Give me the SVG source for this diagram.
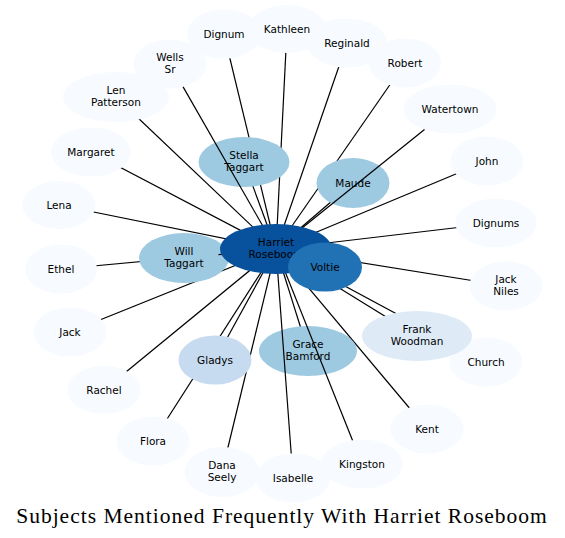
<svg xmlns="http://www.w3.org/2000/svg" width="565" height="538" viewBox="0 0 565 538">
<style>
.e{stroke:#000;stroke-width:1.2;fill:none}
.p{fill:#f7fbff}
.c1{fill:#9ecae1}
.c2{fill:#c6dbef}
.c3{fill:#deebf7}
.l{font-family:"DejaVu Sans",sans-serif;font-size:10.5px;text-anchor:middle;fill:#000}
.t{font-family:"Liberation Serif","DejaVu Serif",serif;font-size:21.5px;letter-spacing:1px;text-anchor:middle;fill:#000}
</style>
<rect width="565" height="538" fill="#fff"/>
<g id="connectors">
<line class="e" x1="276" y1="249" x2="224" y2="34"/>
<line class="e" x1="276" y1="249" x2="287" y2="29"/>
<line class="e" x1="276" y1="249" x2="347" y2="43"/>
<line class="e" x1="276" y1="249" x2="405" y2="63"/>
<line class="e" x1="276" y1="249" x2="116" y2="97"/>
<line class="e" x1="276" y1="249" x2="91" y2="152"/>
<line class="e" x1="276" y1="249" x2="487" y2="161"/>
<line class="e" x1="276" y1="249" x2="59" y2="205"/>
<line class="e" x1="276" y1="249" x2="496" y2="223"/>
<line class="e" x1="276" y1="249" x2="61" y2="269"/>
<line class="e" x1="276" y1="249" x2="506" y2="286"/>
<line class="e" x1="276" y1="249" x2="70" y2="332"/>
<line class="e" x1="276" y1="249" x2="486" y2="362"/>
<line class="e" x1="276" y1="249" x2="104" y2="390"/>
<line class="e" x1="276" y1="249" x2="427" y2="429"/>
<line class="e" x1="276" y1="249" x2="153" y2="441"/>
<line class="e" x1="276" y1="249" x2="222" y2="472"/>
<line class="e" x1="276" y1="249" x2="244" y2="162"/>
<line class="e" x1="276" y1="249" x2="353" y2="183"/>
<line class="e" x1="276" y1="249" x2="184" y2="258"/>
<line class="e" x1="276" y1="249" x2="308" y2="351"/>
<line class="e" x1="276" y1="249" x2="215" y2="360"/>
<line class="e" x1="276" y1="249" x2="417" y2="336"/>
<line class="e" x1="276" y1="249" x2="325" y2="267"/>
</g>
<g id="n-dignum"><ellipse class="p" cx="224" cy="34" rx="37" ry="24.5"/><text class="l" x="224" y="37.5">Dignum</text></g>
<g id="n-kathleen"><ellipse class="p" cx="287" cy="29" rx="39" ry="24"/><text class="l" x="287" y="32.5">Kathleen</text></g>
<g id="n-reginald"><ellipse class="p" cx="347" cy="43" rx="40" ry="24.5"/><text class="l" x="347" y="46.5">Reginald</text></g>
<g id="n-robert"><ellipse class="p" cx="405" cy="63" rx="36" ry="24.5"/><text class="l" x="405" y="66.5">Robert</text></g>
<g id="n-wells-sr"><ellipse class="p" cx="170" cy="64" rx="36.5" ry="24.5"/><text class="l" x="170" y="61">Wells</text><text class="l" x="170" y="73">Sr</text></g>
<g id="n-len-patterson"><ellipse class="p" cx="116" cy="97" rx="53" ry="25"/><text class="l" x="116" y="94">Len</text><text class="l" x="116" y="106">Patterson</text></g>
<g id="n-watertown"><ellipse class="p" cx="450" cy="109" rx="46.5" ry="24.5"/><text class="l" x="450" y="112.5">Watertown</text></g>
<g id="n-margaret"><ellipse class="p" cx="91" cy="152" rx="40" ry="24.5"/><text class="l" x="91" y="155.5">Margaret</text></g>
<g id="n-john"><ellipse class="p" cx="487" cy="161" rx="36.5" ry="24.5"/><text class="l" x="487" y="164.5">John</text></g>
<g id="n-lena"><ellipse class="p" cx="59" cy="205" rx="36.5" ry="24"/><text class="l" x="59" y="208.5">Lena</text></g>
<g id="n-dignums"><ellipse class="p" cx="496" cy="223" rx="40.5" ry="24.5"/><text class="l" x="496" y="226.5">Dignums</text></g>
<g id="n-ethel"><ellipse class="p" cx="61" cy="269" rx="36" ry="24.5"/><text class="l" x="61" y="272.5">Ethel</text></g>
<g id="n-jack-niles"><ellipse class="p" cx="506" cy="286" rx="36.5" ry="24.5"/><text class="l" x="506" y="283">Jack</text><text class="l" x="506" y="295">Niles</text></g>
<g id="n-jack"><ellipse class="p" cx="70" cy="332" rx="36.5" ry="24.5"/><text class="l" x="70" y="335.5">Jack</text></g>
<g id="n-church"><ellipse class="p" cx="486" cy="362" rx="36.5" ry="24.5"/><text class="l" x="486" y="365.5">Church</text></g>
<g id="n-rachel"><ellipse class="p" cx="104" cy="390" rx="36.5" ry="24"/><text class="l" x="104" y="393.5">Rachel</text></g>
<g id="n-kent"><ellipse class="p" cx="427" cy="429" rx="36.5" ry="24.5"/><text class="l" x="427" y="432.5">Kent</text></g>
<g id="n-flora"><ellipse class="p" cx="153" cy="441" rx="36.5" ry="24.5"/><text class="l" x="153" y="444.5">Flora</text></g>
<g id="n-kingston"><ellipse class="p" cx="362" cy="464" rx="41" ry="24.5"/><text class="l" x="362" y="467.5">Kingston</text></g>
<g id="n-dana-seely"><ellipse class="p" cx="222" cy="472" rx="37.5" ry="25"/><text class="l" x="222" y="469">Dana</text><text class="l" x="222" y="481">Seely</text></g>
<g id="n-isabelle"><ellipse class="p" cx="293" cy="478" rx="37" ry="24.5"/><text class="l" x="293" y="481.5">Isabelle</text></g>
<g id="n-stella-taggart"><ellipse class="c1" cx="244" cy="162" rx="45.5" ry="25"/><text class="l" x="244" y="159">Stella</text><text class="l" x="244" y="171">Taggart</text></g>
<g id="n-maude"><ellipse class="c1" cx="353" cy="183" rx="36.5" ry="25"/><text class="l" x="353" y="186.5">Maude</text></g>
<g id="n-will-taggart"><ellipse class="c1" cx="184" cy="258" rx="45" ry="25"/><text class="l" x="184" y="255">Will</text><text class="l" x="184" y="267">Taggart</text></g>
<g id="n-grace-bamford"><ellipse class="c1" cx="308" cy="351" rx="49" ry="25"/><text class="l" x="308" y="348">Grace</text><text class="l" x="308" y="360">Bamford</text></g>
<g id="n-gladys"><ellipse class="c2" cx="215" cy="360" rx="36.5" ry="24.5"/><text class="l" x="215" y="363.5">Gladys</text></g>
<g id="n-frank-woodman"><ellipse class="c3" cx="417" cy="336" rx="55" ry="25"/><text class="l" x="417" y="333">Frank</text><text class="l" x="417" y="345">Woodman</text></g>
<g id="connectors-over">
<line class="e" x1="276" y1="249" x2="183.1" y2="86.9"/>
<line class="e" x1="276" y1="249" x2="424.5" y2="129.5"/>
<line class="e" x1="276" y1="249" x2="352.5" y2="440.2"/>
<line class="e" x1="276" y1="249" x2="291.2" y2="453.5"/>
<line class="e" x1="218.5" y1="254.7" x2="222" y2="254.4"/>
</g>
<g id="n-harriet-roseboom"><ellipse fill="#08519c" cx="276" cy="249" rx="56" ry="25"/><text class="l" x="276" y="246">Harriet</text><text class="l" x="276" y="258">Roseboom</text></g>
<g id="n-voltie"><ellipse fill="#2171b5" cx="325" cy="267" rx="37" ry="24.5"/><text class="l" x="325" y="270.5">Voltie</text></g>
<text class="t" x="282" y="523">Subjects Mentioned Frequently With Harriet Roseboom</text>
</svg>
